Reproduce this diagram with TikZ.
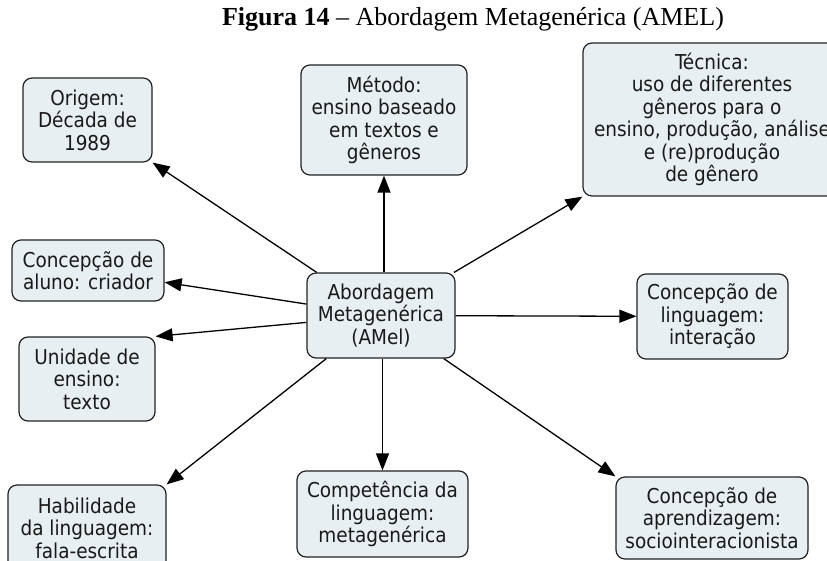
\documentclass[tikz,border=0pt]{standalone}
\usepackage{fontspec}
\usetikzlibrary{arrows.meta}
\newfontfamily\boxfont{DejaVu Sans Condensed}
\newfontfamily\titlefont[Ligatures=TeX]{Liberation Serif}
\definecolor{boxfill}{RGB}{232,239,242}
\definecolor{boxline}{RGB}{35,35,35}
\definecolor{inktext}{RGB}{25,25,25}
\begin{document}
\begin{tikzpicture}[x=1pt,y=-1pt,
  concept/.style={draw=boxline, fill=boxfill, line width=1.2pt, rounded corners=9pt,
    align=center, inner sep=2pt, text=inktext,
    font=\boxfont\fontsize{20.5}{22.5}\selectfont},
  link/.style={line width=1.3pt, draw=black, -{Triangle[length=17pt,width=13pt]}}]
\useasboundingbox (0,0) rectangle (827,561);
\fill[white] (0,0) rectangle (827,561);

% heading
\node[font=\titlefont\fontsize{26}{28}\selectfont, inner sep=0pt] (title) at (473,19)
  {\textbf{Figura 14} – Abordagem Metagenérica (AMEL)};

% central concept
\node[concept, minimum width=148pt, minimum height=85pt] (ctr) at (381,315.5)
  {Abordagem\\Metagenérica\\(AMel)};

% surrounding concepts
\node[concept, minimum width=129pt, minimum height=84pt] (ori) at (87.5,120)
  {Origem:\\Década de\\1989};
\node[concept, minimum width=166pt, minimum height=110pt] (met) at (384,120)
  {Método:\\ensino baseado\\em textos e\\gêneros};
\node[concept, minimum width=258pt, minimum height=153pt] (tec) at (712,119.5)
  {Técnica:\\uso de diferentes\\gêneros para o\\ensino, produção, análise\\e (re)produção\\de gênero};
\node[concept, minimum width=152pt, minimum height=61pt] (alu) at (88,270.5)
  {Concepção de\\aluno: criador};
\node[concept, minimum width=151pt, minimum height=85pt] (lin) at (712.5,316.5)
  {Concepção de\\linguagem:\\interação};
\node[concept, minimum width=136pt, minimum height=84pt] (uni) at (87,379)
  {Unidade de\\ensino:\\texto};
\node[concept, minimum width=158pt, minimum height=86pt] (hab) at (87,528)
  {Habilidade\\da linguagem:\\fala-escrita};
\node[concept, minimum width=171pt, minimum height=86pt] (com) at (382.5,514)
  {Competência da\\linguagem:\\metagenérica};
\node[concept, minimum width=192pt, minimum height=82pt] (apr) at (712,518)
  {Concepção de\\aprendizagem:\\sociointeracionista};

% links from the central concept
\draw[link] (ctr) -- (ori.south east);
\draw[link] (ctr.north -| met.south) -- (met.south);
\draw[link] (ctr) -- (tec.south west);
\draw[link] (ctr) -- (alu);
\draw[link] (ctr) -- (lin);
\draw[link] (ctr) -- (uni.north east);
\draw[link] (ctr) -- (hab.north east);
\draw[link] (ctr.south -| com.north) -- (com.north);
\draw[link] (ctr) -- (apr.north west);
\end{tikzpicture}
\end{document}
